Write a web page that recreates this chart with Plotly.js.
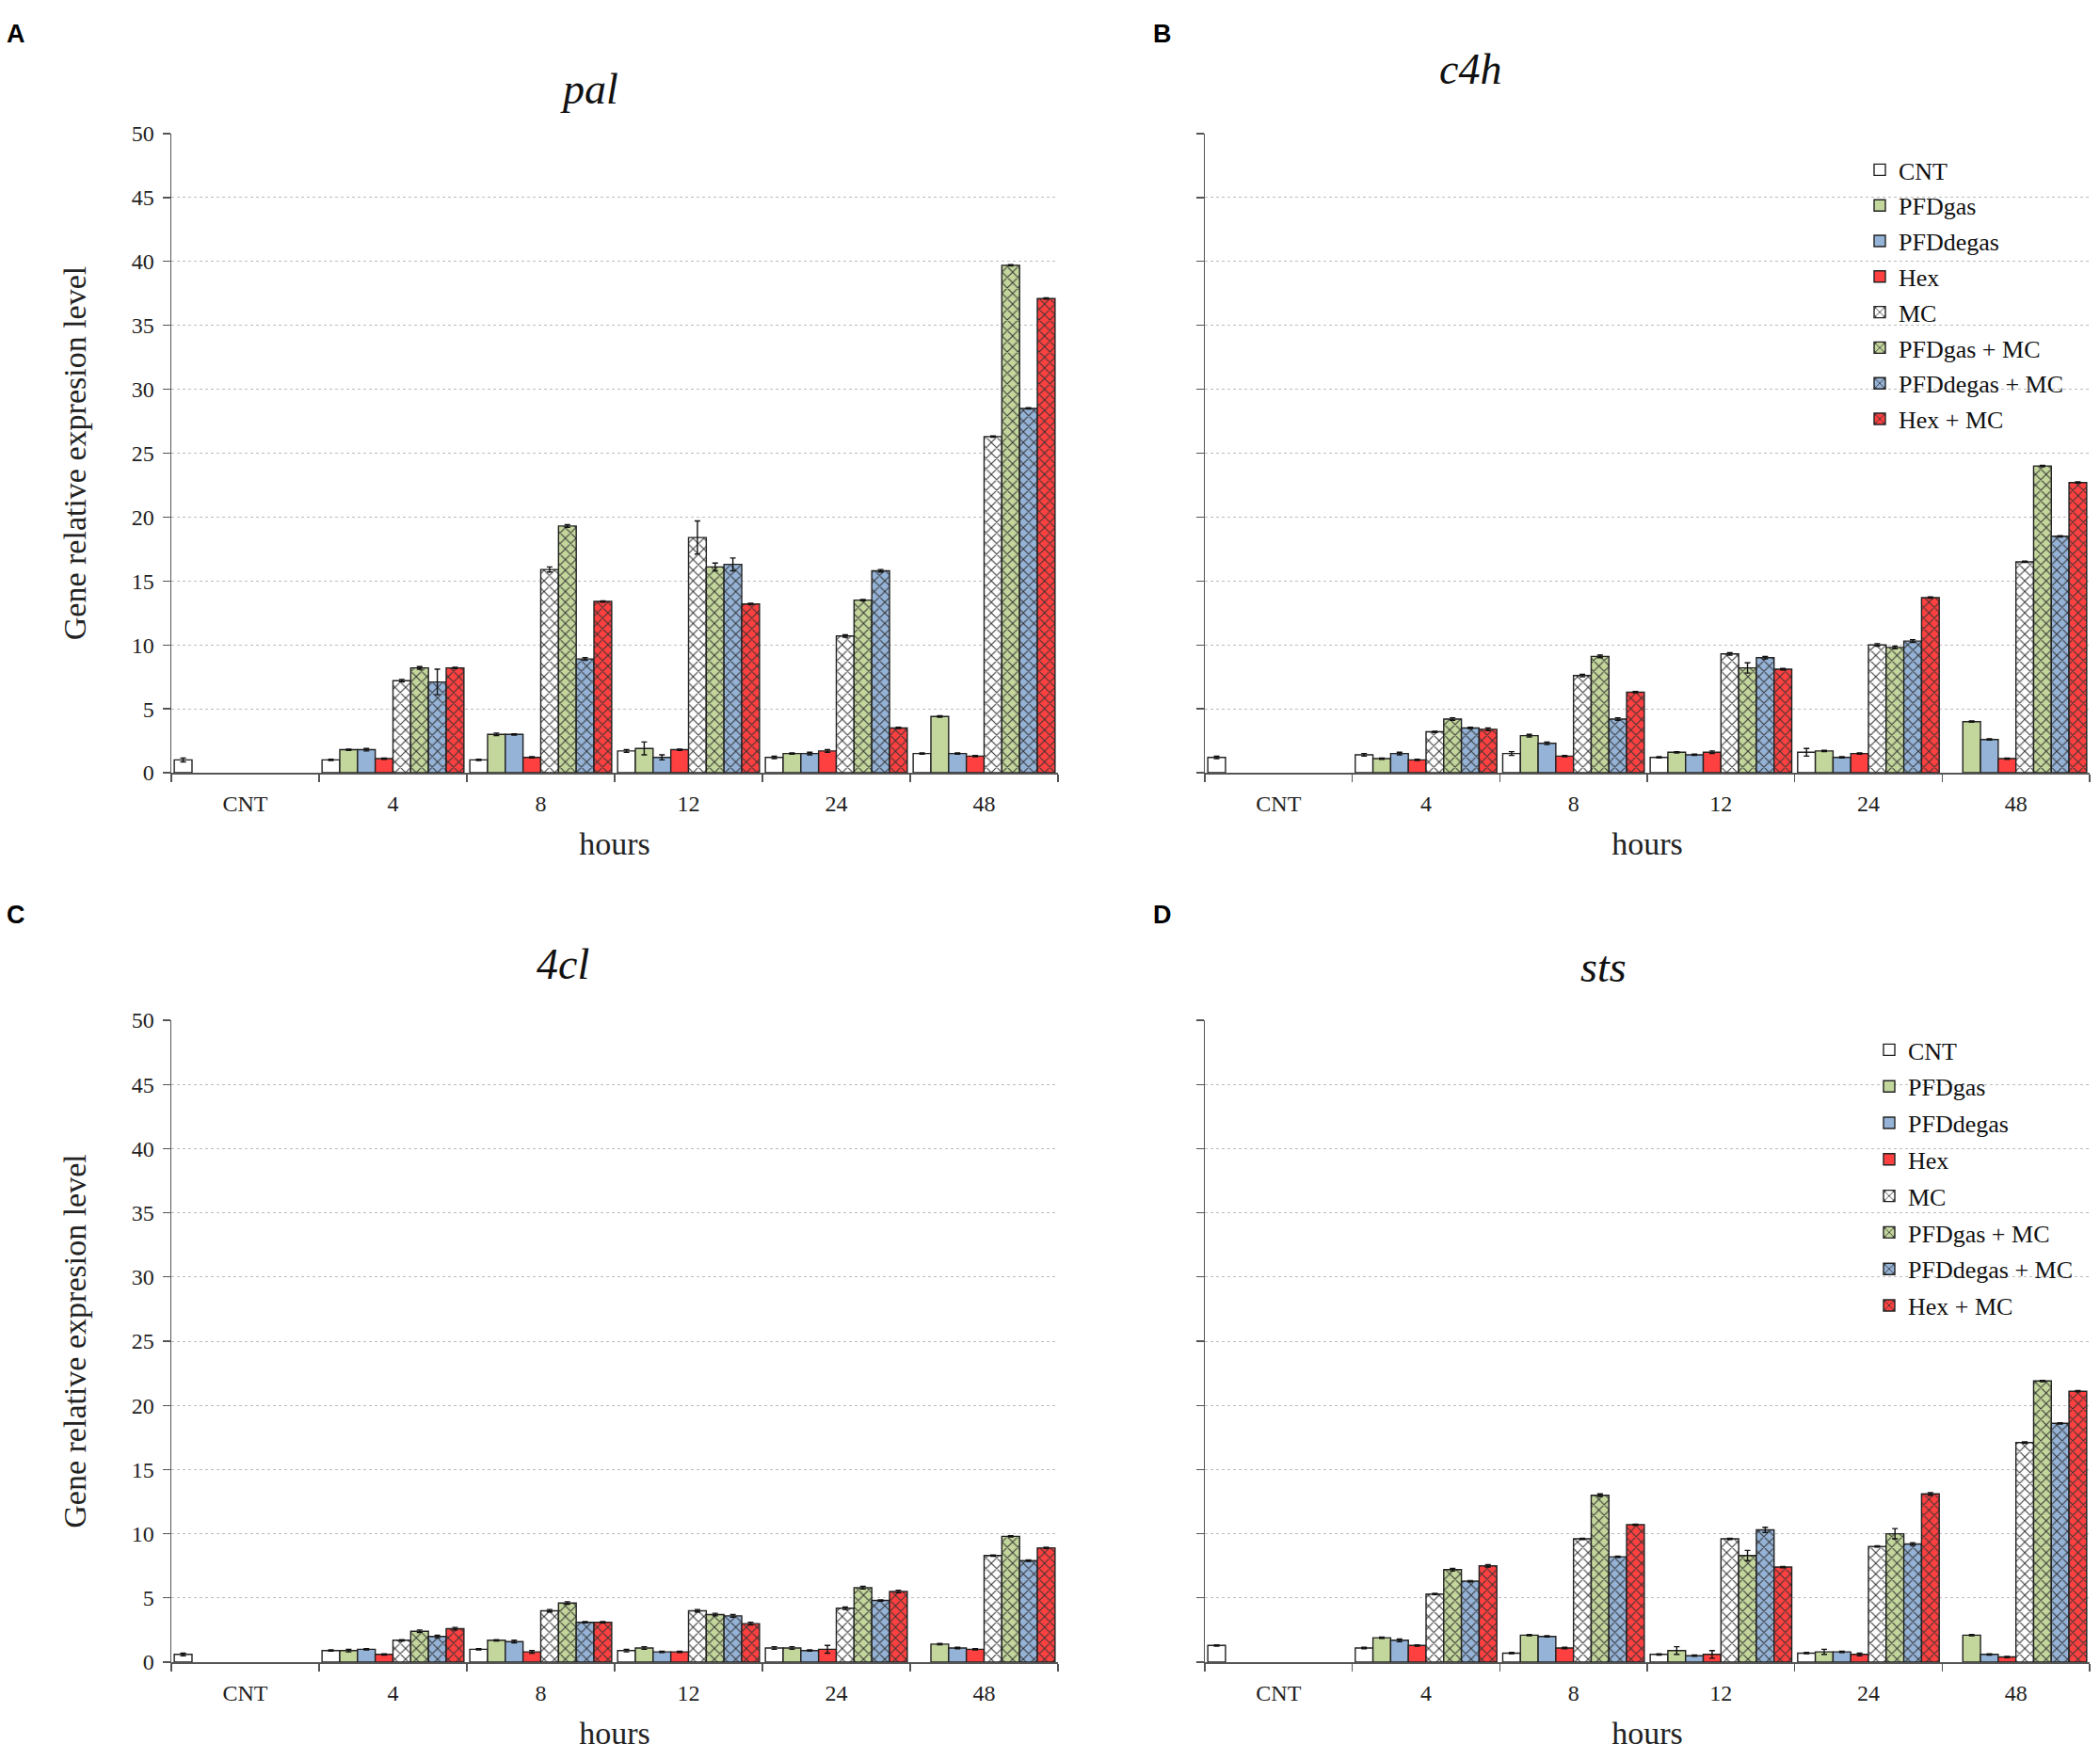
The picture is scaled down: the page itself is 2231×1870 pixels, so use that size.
<!DOCTYPE html>
<html><head><meta charset="utf-8">
<script src="https://cdn.plot.ly/plotly-3.0.1.min.js"></script>
<style>html,body{margin:0;padding:0;background:#fff}#chart{width:2231px;height:1870px}</style>
</head><body><div id="chart"></div>
<script>
// ---------- data ----------
const categories = ['CNT', '4', '8', '12', '24', '48'];
const seriesNames = ['CNT', 'PFDgas', 'PFDdegas', 'Hex', 'MC', 'PFDgas + MC', 'PFDdegas + MC', 'Hex + MC'];
const panelTitles = ['pal', 'c4h', '4cl', 'sts'];
const panelLetters = ['A', 'B', 'C', 'D'];
const yTickValues = [0, 5, 10, 15, 20, 25, 30, 35, 40, 45, 50];
const yTitle = 'Gene relative expresion level';
const xTitle = 'hours';

// pal (A)
const pal_CNT       = [1.0, 1.0, 1.0, 1.7, 1.2, 1.5];
const pal_PFDgas    = [null, 1.8, 3.0, 1.9, 1.5, 4.4];
const pal_PFDdegas  = [null, 1.8, 3.0, 1.2, 1.5, 1.5];
const pal_Hex       = [null, 1.1, 1.2, 1.8, 1.7, 1.3];
const pal_MC        = [null, 7.2, 15.9, 18.4, 10.7, 26.3];
const pal_PFDgasMC  = [null, 8.2, 19.3, 16.1, 13.5, 39.7];
const pal_PFDdegasMC= [null, 7.1, 8.9, 16.3, 15.8, 28.5];
const pal_HexMC     = [null, 8.2, 13.4, 13.2, 3.5, 37.1];
const pal_err_CNT       = [0.15, 0.05, 0.05, 0.1, 0.1, 0.05];
const pal_err_PFDgas    = [0, 0.05, 0.1, 0.5, 0.05, 0.05];
const pal_err_PFDdegas  = [0, 0.1, 0.05, 0.2, 0.1, 0.05];
const pal_err_Hex       = [0, 0.05, 0.05, 0.05, 0.1, 0.05];
const pal_err_MC        = [0, 0.1, 0.2, 1.3, 0.1, 0.05];
const pal_err_PFDgasMC  = [0, 0.1, 0.1, 0.3, 0.05, 0.05];
const pal_err_PFDdegasMC= [0, 1.0, 0.1, 0.5, 0.1, 0.05];
const pal_err_HexMC     = [0, 0.05, 0.05, 0.05, 0.05, 0.05];

// c4h (B)
const c4h_CNT       = [1.2, 1.4, 1.5, 1.2, 1.6, null];
const c4h_PFDgas    = [null, 1.1, 2.9, 1.6, 1.7, 4.0];
const c4h_PFDdegas  = [null, 1.5, 2.3, 1.4, 1.2, 2.6];
const c4h_Hex       = [null, 1.0, 1.3, 1.6, 1.5, 1.1];
const c4h_MC        = [null, 3.2, 7.6, 9.3, 10.0, 16.5];
const c4h_PFDgasMC  = [null, 4.2, 9.1, 8.2, 9.8, 24.0];
const c4h_PFDdegasMC= [null, 3.5, 4.2, 9.0, 10.3, 18.5];
const c4h_HexMC     = [null, 3.4, 6.3, 8.1, 13.7, 22.7];
const c4h_err_CNT       = [0.1, 0.1, 0.15, 0.05, 0.3, 0];
const c4h_err_PFDgas    = [0, 0.05, 0.1, 0.05, 0.05, 0.05];
const c4h_err_PFDdegas  = [0, 0.1, 0.1, 0.05, 0.05, 0.05];
const c4h_err_Hex       = [0, 0.05, 0.05, 0.1, 0.05, 0.05];
const c4h_err_MC        = [0, 0.05, 0.1, 0.1, 0.1, 0.05];
const c4h_err_PFDgasMC  = [0, 0.1, 0.1, 0.4, 0.1, 0.05];
const c4h_err_PFDdegasMC= [0, 0.05, 0.1, 0.1, 0.1, 0.05];
const c4h_err_HexMC     = [0, 0.1, 0.05, 0.05, 0.05, 0.05];

// 4cl (C)
const cl4_CNT       = [0.6, 0.9, 1.0, 0.9, 1.1, null];
const cl4_PFDgas    = [null, 0.9, 1.7, 1.1, 1.1, 1.4];
const cl4_PFDdegas  = [null, 1.0, 1.6, 0.8, 0.9, 1.1];
const cl4_Hex       = [null, 0.6, 0.8, 0.8, 1.0, 1.0];
const cl4_MC        = [null, 1.7, 4.0, 4.0, 4.2, 8.3];
const cl4_PFDgasMC  = [null, 2.4, 4.6, 3.7, 5.8, 9.8];
const cl4_PFDdegasMC= [null, 2.0, 3.1, 3.6, 4.8, 7.9];
const cl4_HexMC     = [null, 2.6, 3.1, 3.0, 5.5, 8.9];
const cl4_err_CNT       = [0.1, 0.05, 0.05, 0.1, 0.1, 0];
const cl4_err_PFDgas    = [0, 0.1, 0.05, 0.1, 0.1, 0.05];
const cl4_err_PFDdegas  = [0, 0.05, 0.1, 0.05, 0.05, 0.05];
const cl4_err_Hex       = [0, 0.05, 0.1, 0.05, 0.3, 0.05];
const cl4_err_MC        = [0, 0.05, 0.1, 0.1, 0.1, 0.05];
const cl4_err_PFDgasMC  = [0, 0.1, 0.1, 0.1, 0.1, 0.05];
const cl4_err_PFDdegasMC= [0, 0.1, 0.05, 0.1, 0.05, 0.05];
const cl4_err_HexMC     = [0, 0.1, 0.05, 0.1, 0.1, 0.05];

// sts (D)
const sts_CNT       = [1.3, 1.1, 0.7, 0.6, 0.7, null];
const sts_PFDgas    = [null, 1.9, 2.1, 0.9, 0.8, 2.1];
const sts_PFDdegas  = [null, 1.7, 2.0, 0.5, 0.8, 0.6];
const sts_Hex       = [null, 1.3, 1.1, 0.6, 0.6, 0.4];
const sts_MC        = [null, 5.3, 9.6, 9.6, 9.0, 17.1];
const sts_PFDgasMC  = [null, 7.2, 13.0, 8.3, 10.0, 21.9];
const sts_PFDdegasMC= [null, 6.3, 8.2, 10.3, 9.2, 18.6];
const sts_HexMC     = [null, 7.5, 10.7, 7.4, 13.1, 21.1];
const sts_err_CNT       = [0.05, 0.05, 0.05, 0.05, 0.05, 0];
const sts_err_PFDgas    = [0, 0.05, 0.05, 0.3, 0.2, 0.05];
const sts_err_PFDdegas  = [0, 0.1, 0.05, 0.05, 0.05, 0.05];
const sts_err_Hex       = [0, 0.05, 0.05, 0.3, 0.1, 0.05];
const sts_err_MC        = [0, 0.05, 0.05, 0.05, 0.05, 0.05];
const sts_err_PFDgasMC  = [0, 0.1, 0.1, 0.4, 0.4, 0.05];
const sts_err_PFDdegasMC= [0, 0.05, 0.05, 0.2, 0.1, 0.05];
const sts_err_HexMC     = [0, 0.1, 0.05, 0.05, 0.1, 0.05];

const panelValues = [
  [pal_CNT, pal_PFDgas, pal_PFDdegas, pal_Hex, pal_MC, pal_PFDgasMC, pal_PFDdegasMC, pal_HexMC],
  [c4h_CNT, c4h_PFDgas, c4h_PFDdegas, c4h_Hex, c4h_MC, c4h_PFDgasMC, c4h_PFDdegasMC, c4h_HexMC],
  [cl4_CNT, cl4_PFDgas, cl4_PFDdegas, cl4_Hex, cl4_MC, cl4_PFDgasMC, cl4_PFDdegasMC, cl4_HexMC],
  [sts_CNT, sts_PFDgas, sts_PFDdegas, sts_Hex, sts_MC, sts_PFDgasMC, sts_PFDdegasMC, sts_HexMC]
];
const panelErrors = [
  [pal_err_CNT, pal_err_PFDgas, pal_err_PFDdegas, pal_err_Hex, pal_err_MC, pal_err_PFDgasMC, pal_err_PFDdegasMC, pal_err_HexMC],
  [c4h_err_CNT, c4h_err_PFDgas, c4h_err_PFDdegas, c4h_err_Hex, c4h_err_MC, c4h_err_PFDgasMC, c4h_err_PFDdegasMC, c4h_err_HexMC],
  [cl4_err_CNT, cl4_err_PFDgas, cl4_err_PFDdegas, cl4_err_Hex, cl4_err_MC, cl4_err_PFDgasMC, cl4_err_PFDdegasMC, cl4_err_HexMC],
  [sts_err_CNT, sts_err_PFDgas, sts_err_PFDdegas, sts_err_Hex, sts_err_MC, sts_err_PFDgasMC, sts_err_PFDdegasMC, sts_err_HexMC]
];

// ---------- styles ----------
const seriesColors = ['#ffffff', '#c3d69b', '#95b3d7', '#ff4040', '#ffffff', '#c3d69b', '#95b3d7', '#ff4040'];
const seriesHatched = [false, false, false, false, true, true, true, true];
const serif = 'Liberation Serif';
const W = 2231, H = 1870;
const colX = [[182 / W, 1124 / W], [1280 / W, 2220 / W]];
const rowY = [[(H - 821) / H, (H - 142) / H], [(H - 1766) / H, (H - 1084) / H]];

const traces = [];
for (let p = 0; p < 4; p++) {
  const sfx = p === 0 ? '' : String(p + 1);
  const legendId = p === 1 ? 'legend' : (p === 3 ? 'legend2' : null);
  for (let s = 0; s < 8; s++) {
    const t = {
      type: 'bar',
      name: seriesNames[s],
      x: categories,
      y: panelValues[p][s],
      xaxis: 'x' + sfx,
      yaxis: 'y' + sfx,
      marker: {
        color: seriesColors[s],
        line: {color: '#222', width: 1.4},
        pattern: seriesHatched[s]
          ? {shape: 'x', size: 8, solidity: 0.24, fgcolor: '#333', bgcolor: seriesColors[s], fillmode: 'replace'}
          : {shape: ''}
      },
      error_y: {type: 'data', array: panelErrors[p][s], visible: true, color: '#111', thickness: 1.4, width: 3},
      showlegend: legendId !== null,
      hoverinfo: 'x+y+name'
    };
    if (legendId) {
      t.legend = legendId;
      t.legendgroup = 'g' + p + '_' + s;
    }
    traces.push(t);
  }
}

const layout = {
  width: W, height: H,
  margin: {l: 0, r: 0, t: 0, b: 0},
  paper_bgcolor: '#fff', plot_bgcolor: '#fff',
  barmode: 'group', bargap: 0.04, bargroupgap: 0,
  font: {family: serif, color: '#222', size: 22},
  annotations: [],
  legend: {
    x: 1977 / W, y: (H - 157) / H, xanchor: 'left', yanchor: 'top',
    font: {family: serif, size: 26, color: '#111'},
    bgcolor: 'rgba(0,0,0,0)', traceorder: 'grouped', tracegroupgap: 1
  },
  legend2: {
    x: 1987 / W, y: (H - 1092) / H, xanchor: 'left', yanchor: 'top',
    font: {family: serif, size: 26, color: '#111'},
    bgcolor: 'rgba(0,0,0,0)', traceorder: 'grouped', tracegroupgap: 2
  }
};

for (let p = 0; p < 4; p++) {
  const sfx = p === 0 ? '' : String(p + 1);
  const col = p % 2, row = Math.floor(p / 2);
  layout['xaxis' + sfx] = {
    type: 'category', domain: colX[col], anchor: 'y' + sfx,
    showline: true, linecolor: '#555', linewidth: 1.5,
    ticks: 'outside', tickson: 'boundaries', ticklen: 8, tickcolor: '#555', tickwidth: 1.3,
    ticklabelstandoff: 11,
    tickfont: {family: serif, size: 24, color: '#222'},
    showgrid: false, zeroline: false, fixedrange: true,
    title: {text: xTitle, font: {family: serif, size: 34, color: '#222'}, standoff: 18}
  };
  layout['yaxis' + sfx] = {
    domain: rowY[row], anchor: 'x' + sfx, range: [0, 50],
    tickvals: yTickValues, showticklabels: col === 0,
    showline: true, linecolor: '#555', linewidth: 1.5,
    ticks: 'outside', ticklen: 8, tickcolor: '#555', tickwidth: 1.3,
    ticklabelstandoff: 4,
    tickfont: {family: serif, size: 24, color: '#222'},
    showgrid: true, gridcolor: '#bdbdbd', gridwidth: 1, griddash: '3px,3px',
    zeroline: false, fixedrange: true,
    title: col === 0 ? {text: yTitle, font: {family: serif, size: 34, color: '#222'}, standoff: 38} : {text: ''}
  };
}

const titlePos = [[626, 95], [1562, 74], [598, 1024], [1703, 1027]];
const letterPos = [[17, 36], [1235, 36], [17, 972], [1235, 972]];
for (let p = 0; p < 4; p++) {
  layout.annotations.push({
    text: '<i>' + panelTitles[p] + '</i>', xref: 'paper', yref: 'paper',
    x: titlePos[p][0] / W, y: (H - titlePos[p][1]) / H, xanchor: 'center', yanchor: 'middle',
    showarrow: false, font: {family: serif, size: 46, color: '#111'}
  });
  layout.annotations.push({
    text: '<b>' + panelLetters[p] + '</b>', xref: 'paper', yref: 'paper',
    x: letterPos[p][0] / W, y: (H - letterPos[p][1]) / H, xanchor: 'center', yanchor: 'middle',
    showarrow: false, font: {family: 'Liberation Sans', size: 27, color: '#000'}
  });
}

Plotly.newPlot('chart', traces, layout, {staticPlot: true, displayModeBar: false});
</script>
</body></html>
